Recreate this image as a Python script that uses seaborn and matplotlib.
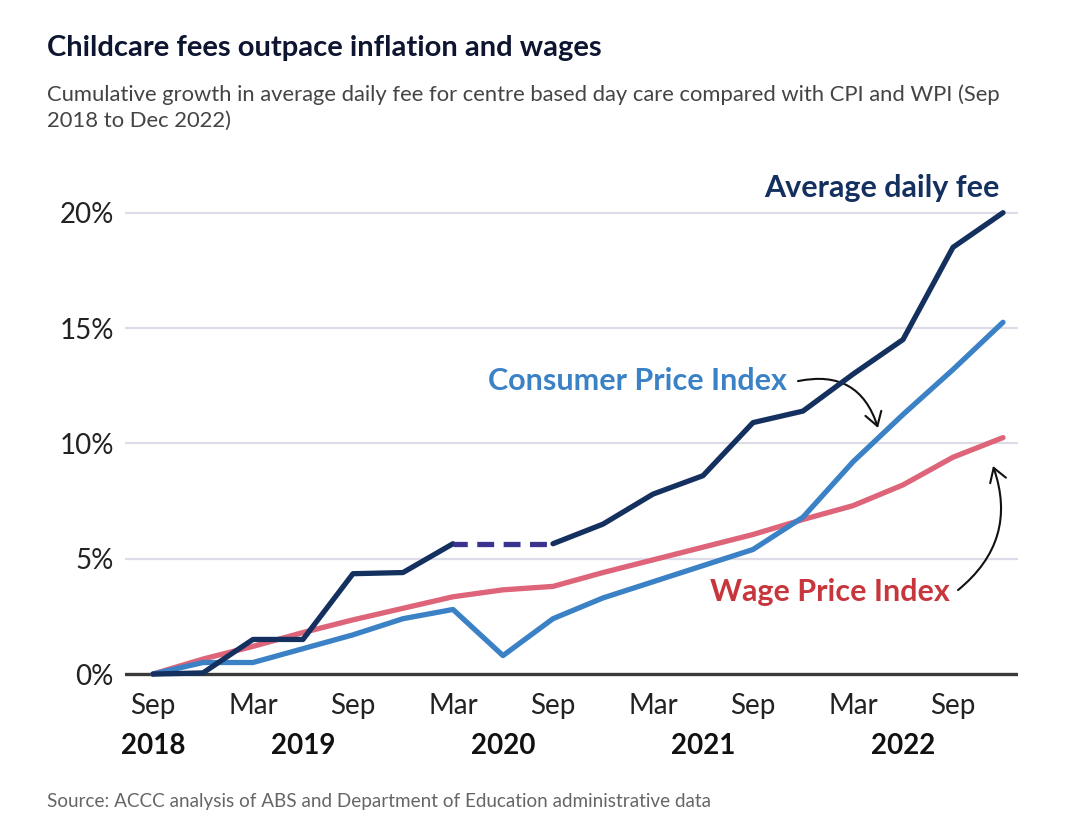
import numpy as np
import pandas as pd
import matplotlib
matplotlib.use("Agg")
import matplotlib.pyplot as plt
import seaborn as sns

quarters = ["Sep 2018", "Dec 2018", "Mar 2019", "Jun 2019", "Sep 2019", "Dec 2019",
            "Mar 2020", "Jun 2020", "Sep 2020", "Dec 2020", "Mar 2021", "Jun 2021",
            "Sep 2021", "Dec 2021", "Mar 2022", "Jun 2022", "Sep 2022", "Dec 2022"]
avg_fee = [0.0, 0.05, 1.5, 1.5, 4.35, 4.4, 5.65, None, 5.65, 6.5, 7.8, 8.6,
           10.9, 11.4, 13.0, 14.5, 18.5, 20.0]
cpi = [0.0, 0.5, 0.5, 1.1, 1.7, 2.4, 2.8, 0.8, 2.4, 3.3, 4.0, 4.7,
       5.4, 6.8, 9.2, 11.25, 13.2, 15.25]
wpi = [0.0, 0.65, 1.2, 1.8, 2.35, 2.85, 3.35, 3.65, 3.8, 4.4, 4.95, 5.5,
       6.05, 6.7, 7.3, 8.2, 9.4, 10.25]
y_ticks = [0, 5, 10, 15, 20]
x_tick_labels = ["Sep", "Mar", "Sep", "Mar", "Sep", "Mar", "Sep", "Mar", "Sep"]
year_labels = ["2018", "2019", "2020", "2021", "2022"]
year_quarters = ["Sep 2018", "Jun 2019", "Jun 2020", "Jun 2021", "Jun 2022"]

NAVY = "#14305f"
BLUE = "#3b81c6"
PINK = "#dd6479"
RED = "#c8363d"
PURPLE = "#3b3390"
GRID = "#dcdde9"

sns.set_theme(style="white")
plt.rcParams["font.family"] = ["Lato", "DejaVu Sans"]

qidx = {q: i for i, q in enumerate(quarters)}
df = pd.DataFrame({"q": np.arange(len(quarters)), "fee": avg_fee, "cpi": cpi, "wpi": wpi})
df["fee"] = df["fee"].astype(float)

fig = plt.figure(figsize=(10.8, 8.17), dpi=100)
ax = fig.add_axes([0.1157, 0.1665, 0.9426 - 0.1157, 0.6155])

for yv in y_ticks[1:]:
    ax.axhline(yv, color=GRID, lw=1.6, zorder=0)
ax.axhline(0, color="#3a3a3a", lw=2.4, zorder=1)

lw = 3.8
sns.lineplot(data=df, x="q", y="wpi", color=PINK, lw=lw, ax=ax, zorder=3,
             solid_capstyle="round", solid_joinstyle="round")
sns.lineplot(data=df, x="q", y="cpi", color=BLUE, lw=lw, ax=ax, zorder=4,
             solid_capstyle="round", solid_joinstyle="round")
gap = qidx["Jun 2020"]
fee1 = df[df["q"] < gap]
fee2 = df[df["q"] > gap]
sns.lineplot(data=fee1, x="q", y="fee", color=NAVY, lw=lw, ax=ax, zorder=5,
             solid_capstyle="round", solid_joinstyle="round")
sns.lineplot(data=fee2, x="q", y="fee", color=NAVY, lw=lw, ax=ax, zorder=5,
             solid_capstyle="round", solid_joinstyle="round")
dash = df[(df["q"] == gap - 1) | (df["q"] == gap + 1)]
sns.lineplot(data=dash, x="q", y="fee", color=PURPLE, lw=lw, ax=ax, zorder=5,
             linestyle=(0.5, (3.2, 1.8)), dash_capstyle="butt")

ax.set_xlim(-0.56, 17.3)
ax.set_ylim(-0.3, 21.5)
ax.set_yticks(y_ticks)
ax.set_yticklabels([f"{v}%" for v in y_ticks])
ax.set_xticks(np.arange(0, 17, 2))
ax.set_xticklabels(x_tick_labels)
ax.tick_params(axis="both", labelsize=20, colors="#222222", length=0)
ax.tick_params(axis="y", pad=8)
ax.tick_params(axis="x", pad=9)
ax.set_xlabel("")
ax.set_ylabel("")
for s in ax.spines.values():
    s.set_visible(False)

for yl, yq in zip(year_labels, year_quarters):
    ax.text(qidx[yq], -0.103, yl, transform=ax.get_xaxis_transform(),
            ha="center", va="top", fontsize=20, fontweight="bold", color="#111111")

# Series labels
ax.text(16.94, 21.08, "Average daily fee", ha="right", va="center",
        fontsize=22, fontweight="bold", color=NAVY)
ax.text(12.68, 12.71, "Consumer Price Index", ha="right", va="center",
        fontsize=22, fontweight="bold", color=BLUE)
ax.text(15.94, 3.56, "Wage Price Index", ha="right", va="center",
        fontsize=22, fontweight="bold", color=RED)

ax.annotate("", xy=(14.5, 10.67), xytext=(12.9, 12.7),
            arrowprops=dict(arrowstyle="->,head_length=0.8,head_width=0.5", color="#111111",
                            lw=1.5, connectionstyle="arc3,rad=-0.45", shrinkA=0, shrinkB=0))
ax.annotate("", xy=(16.8, 9.02), xytext=(16.1, 3.64),
            arrowprops=dict(arrowstyle="->,head_length=0.8,head_width=0.5", color="#111111",
                            lw=1.5, connectionstyle="arc3,rad=0.35", shrinkA=0, shrinkB=0))

fig.text(47 / 1080, 1 - 48 / 817, "Childcare fees outpace inflation and wages",
         ha="left", va="center", fontsize=21, fontweight="bold", color="#0d1530")
fig.text(47 / 1080, 1 - 84 / 817,
         "Cumulative growth in average daily fee for centre based day care compared with CPI and WPI (Sep\n2018 to Dec 2022)",
         ha="left", va="top", fontsize=15.8, color="#444444", linespacing=1.4)
fig.text(47 / 1080, 1 - 802 / 817,
         "Source: ACCC analysis of ABS and Department of Education administrative data",
         ha="left", va="center", fontsize=13.6, color="#666666")

fig.savefig("out.png", dpi=100)
